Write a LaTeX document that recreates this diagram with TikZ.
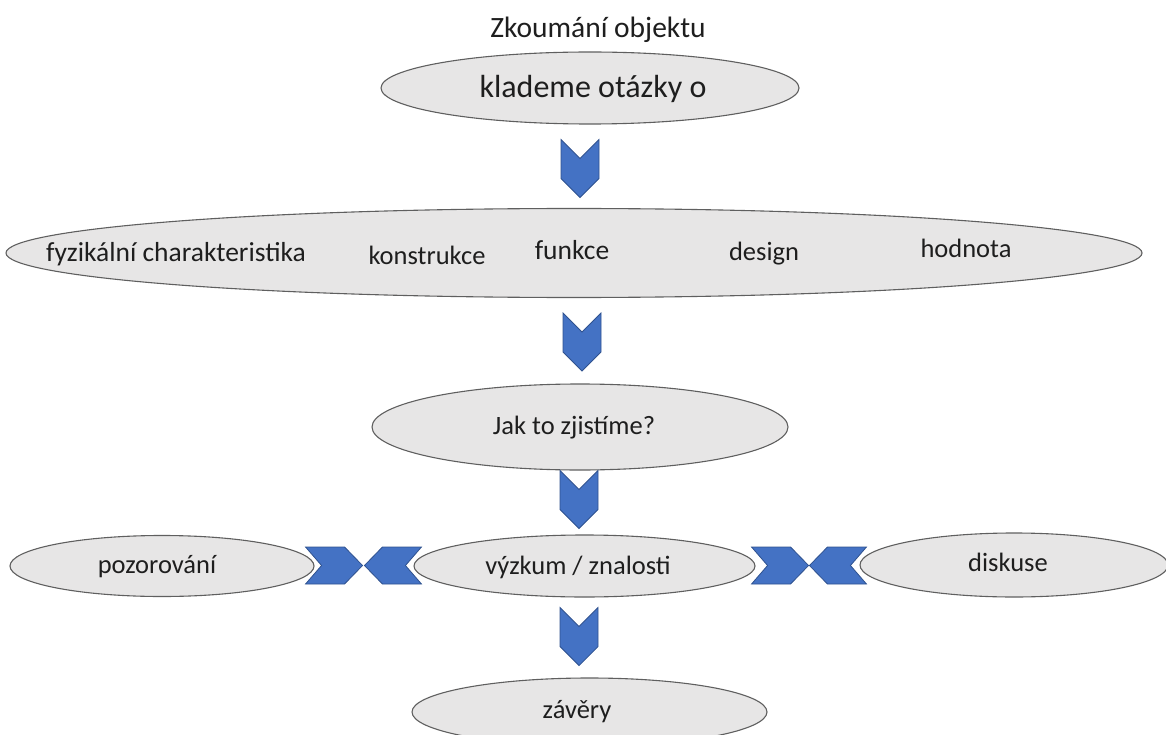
\documentclass[tikz,border=0pt]{standalone}
\usepackage{fontspec}
\setmainfont{Carlito}
\usetikzlibrary{shapes.geometric,calc}

\definecolor{ovalfill}{HTML}{E7E6E6}
\definecolor{ovaldraw}{HTML}{5F5F5F}
\definecolor{chevfill}{HTML}{4472C4}
\definecolor{chevdraw}{HTML}{2F528F}
\definecolor{ink}{HTML}{1E1E1E}

\tikzset{
  oval/.style={ellipse, draw=ovaldraw, fill=ovalfill, line width=1.1pt, inner sep=0pt},
  lbl/.style={font=\fontsize{26.5}{30}\selectfont, text=ink, inner sep=0pt},
  lblmid/.style={font=\fontsize{27.5}{31}\selectfont, text=ink, inner sep=0pt},
  lblbig/.style={font=\fontsize{32}{36}\selectfont, text=ink, inner sep=0pt},
  chevron/.style={fill=chevfill, draw=chevdraw, line width=0.8pt, line join=miter},
  % block chevrons used as connectors between the ovals
  pics/chevdown/.style={code={
    \draw[chevron] (-19,0) -- (0,19) -- (19,0) -- (19,39) -- (0,58) -- (-19,39) -- cycle;}},
  pics/chevright/.style={code={
    \draw[chevron] (0,-18.5) -- (39,-18.5) -- (57,0) -- (39,18.5) -- (0,18.5) -- (16,0) -- cycle;}},
  pics/chevleft/.style={code={
    \draw[chevron] (0,-18.5) -- (-39,-18.5) -- (-57,0) -- (-39,18.5) -- (0,18.5) -- (-16,0) -- cycle;}},
}

\begin{document}
\begin{tikzpicture}[x=1pt,y=-1pt]
  \useasboundingbox (0,0) rectangle (1166,735);
  \clip (0,0) rectangle (1166,735);

  % title
  \node[lbl, font=\fontsize{29.5}{33}\selectfont] (title) at (598,30) {Zkoumání objektu};

  % question oval
  \node[oval, minimum width=418, minimum height=72] (ask) at (590,88) {};
  \node[lblbig] (asktxt) at (593,89) {klademe otázky o};

  % wide oval with the object's aspects
  \node[oval, minimum width=1136, minimum height=89] (aspects) at (574,253) {};
  \node[lblmid] (a1) at (176,254) {fyzikální charakteristika};
  \node[lbl] (a2) at (427,255) {konstrukce};
  \node[lblmid] (a3) at (572,250) {funkce};
  \node[lbl] (a4) at (764,254) {design};
  \node[lbl] (a5) at (966,248) {hodnota};

  % how do we find out
  \node[oval, minimum width=416, minimum height=86] (how) at (580,427) {};
  \node[lbl] (howtxt) at (574,428) {Jak to zjistíme?};

  % row of methods
  \node[oval, minimum width=304, minimum height=61] (obs) at (162,566) {};
  \node[lbl] (obstxt) at (157,567) {pozorování};
  \node[oval, minimum width=341, minimum height=62] (res) at (584.5,566) {};
  \node[lbl] (restxt) at (578,567) {výzkum / znalosti};
  \node[oval, minimum width=308, minimum height=64] (disc) at (1014,565) {};
  \node[lbl] (disctxt) at (1008,562) {diskuse};

  % conclusions
  \node[oval, minimum width=355, minimum height=68] (concl) at (589.5,712) {};
  \node[lbl] (concltxt) at (577,712) {závěry};

  % chevrons linking the ovals
  \pic at ($(ask.south)+(-10,15)$) {chevdown};
  \pic at ($(aspects.south)+(8,15)$) {chevdown};
  \pic at ($(how.south)+(-1,0)$) {chevdown};
  \pic at ($(res.south)+(-5.5,10)$) {chevdown};

  \pic at ($(obs.east)+(-9,-0.5)$) {chevright};
  \pic at ($(res.west)+(8,-0.5)$) {chevleft};
  \pic at ($(res.east)+(-4,-0.5)$) {chevright};
  \pic at ($(disc.west)+(7,0.5)$) {chevleft};
\end{tikzpicture}
\end{document}
